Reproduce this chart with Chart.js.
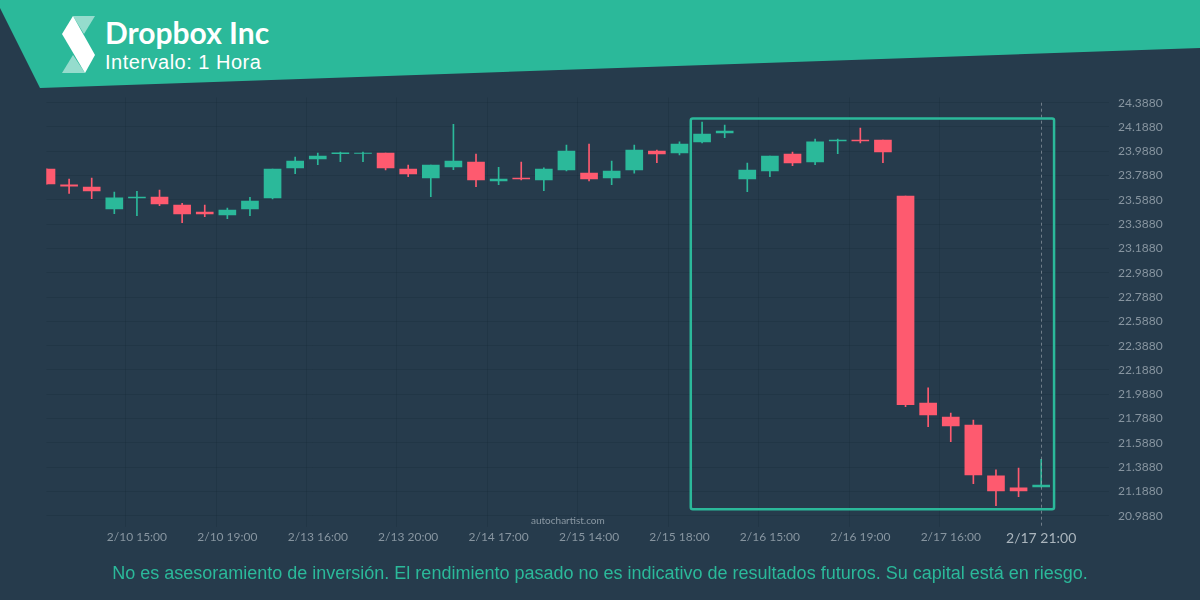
<!DOCTYPE html>
<html>
<head>
<meta charset="utf-8">
<script src="https://cdn.jsdelivr.net/npm/chart.js@4.4.1/dist/chart.umd.min.js"></script>
<style>
	html, body { margin: 0; padding: 0; background: #263b4c; width: 1200px; height: 600px; overflow: hidden; }
	#chart { position: absolute; left: 0; top: 0; }
	.banner {
		position: absolute; left: 0; top: 0; width: 1200px; height: 90px;
		background: #2bb99a;
		clip-path: polygon(0 0, 1200px 0, 1200px 48px, 40px 88px, 0 8px);
	}
	.logo { position: absolute; left: 0; top: 0; }
	.title { position: absolute; left: 105px; top: 14px; font: bold 30px Lato, sans-serif; color: #fff; }
	.subtitle { position: absolute; left: 105px; top: 51px; font: 20px "Liberation Sans", Arial, sans-serif; letter-spacing: 0.5px; color: #fff; }
	.brand { position: absolute; left: 531px; top: 514px; font: 10px Lato, sans-serif; color: #8a98a3; }
	.disclaimer {
		position: absolute; left: 0; width: 1200px; top: 563px; text-align: center;
		font: 18px "Liberation Sans", Arial, sans-serif; color: #2bb99a;
	}
</style>
</head>
<body>
<canvas id="chart" width="1200" height="600"></canvas>
<div class="banner">
	<svg class="logo" width="120" height="90">
		<polygon points="73,16 95,16 84,34" fill="rgba(255,255,255,0.5)"/>
		<polygon points="73,16 62,34 85,73 95,55" fill="#fff"/>
		<polygon points="62,73 85,73 73,55" fill="rgba(255,255,255,0.5)"/>
	</svg>
	<div class="title">Dropbox Inc</div>
	<div class="subtitle">Intervalo: 1 Hora</div>
</div>
<div class="brand">autochartist.com</div>
<div class="disclaimer">No es asesoramiento de inversión. El rendimiento pasado no es indicativo de resultados futuros. Su capital está en riesgo.</div>

<script>
// velas de 1 hora (hora del gráfico)
const times = [
	'2/9 18:00', '2/9 19:00', '2/9 20:00', '2/10 14:00', '2/10 15:00', '2/10 16:00', '2/10 17:00', '2/10 18:00',
	'2/10 19:00', '2/10 20:00', '2/13 14:00', '2/13 15:00', '2/13 16:00', '2/13 17:00', '2/13 18:00', '2/13 19:00',
	'2/13 20:00', '2/14 14:00', '2/14 15:00', '2/14 16:00', '2/14 17:00', '2/14 18:00', '2/14 19:00', '2/14 20:00',
	'2/15 14:00', '2/15 15:00', '2/15 16:00', '2/15 17:00', '2/15 18:00', '2/15 19:00', '2/15 20:00', '2/16 14:00',
	'2/16 15:00', '2/16 16:00', '2/16 17:00', '2/16 18:00', '2/16 19:00', '2/16 20:00', '2/17 14:00', '2/17 15:00',
	'2/17 16:00', '2/17 17:00', '2/17 18:00', '2/17 19:00', '2/17 21:00',
	'', '', ''
];

const opens = [
	23.842, 23.711, 23.694, 23.513, 23.605, 23.612, 23.546, 23.488, 23.464, 23.513,
	23.604, 23.851, 23.925, 23.968, 23.970, 23.974, 23.842, 23.768, 23.859, 23.900,
	23.744, 23.768, 23.752, 23.834, 23.809, 23.768, 23.834, 23.990, 23.974, 24.065,
	24.139, 23.760, 23.826, 23.966, 23.900, 24.073, 24.081, 24.081, 23.620, 21.916,
	21.801, 21.735, 21.316, 21.217, 21.225
];
const highs = [
	23.845, 23.760, 23.768, 23.653, 23.659, 23.669, 23.560, 23.546, 23.521, 23.609,
	23.842, 23.941, 23.974, 23.982, 23.982, 23.974, 23.875, 23.875, 24.210, 23.966,
	23.856, 23.900, 23.851, 24.040, 24.048, 23.908, 24.040, 23.999, 24.065, 24.229,
	24.204, 23.892, 23.949, 23.982, 24.089, 24.089, 24.180, 24.081, 23.620, 22.040,
	21.834, 21.776, 21.365, 21.381, 21.453
];
const lows = [
	23.715, 23.642, 23.598, 23.474, 23.458, 23.540, 23.400, 23.450, 23.433, 23.458,
	23.595, 23.804, 23.878, 23.902, 23.902, 23.834, 23.779, 23.614, 23.837, 23.697,
	23.713, 23.752, 23.664, 23.826, 23.744, 23.713, 23.807, 23.894, 23.958, 24.056,
	24.100, 23.656, 23.779, 23.869, 23.878, 23.968, 24.056, 23.894, 21.886, 21.721,
	21.598, 21.252, 21.071, 21.145, 21.225
];
const closes = [
	23.719, 23.700, 23.661, 23.604, 23.612, 23.554, 23.472, 23.472, 23.505, 23.579,
	23.842, 23.908, 23.949, 23.975, 23.974, 23.851, 23.801, 23.875, 23.908, 23.752,
	23.760, 23.760, 23.842, 23.990, 23.760, 23.826, 23.999, 23.966, 24.048, 24.130,
	24.155, 23.834, 23.949, 23.892, 24.065, 24.081, 24.073, 23.982, 21.902, 21.818,
	21.727, 21.324, 21.192, 21.192, 21.241
];

const yTicks = [20.988, 21.188, 21.388, 21.588, 21.788, 21.988, 22.188, 22.388, 22.588,
	22.788, 22.988, 23.188, 23.388, 23.588, 23.788, 23.988, 24.188, 24.388];

// zona del patrón detectado
const zoneFrom = 28.5, zoneTo = 44.57, zoneHigh = 24.258, zoneLow = 21.041;
const lastIndex = 44;

const GREEN = '#2bb99a';
const RED   = '#fe5a6f';
const GRID  = 'rgba(20,35,48,0.22)';
const TICK  = '#8795a0';

const candleColors = opens.map((o, i) => closes[i] >= o ? GREEN : RED);

const zonePlugin = {
	id: 'zone',
	afterDatasetsDraw(chart) {
		const { ctx, scales: { x, y }, chartArea } = chart;
		// línea punteada en la última vela
		const lx = Math.round(x.getPixelForValue(lastIndex)) + 0.5;
		ctx.save();
		ctx.strokeStyle = 'rgba(160,170,178,0.6)';
		ctx.lineWidth = 1;
		ctx.setLineDash([3, 3]);
		ctx.beginPath();
		ctx.moveTo(lx, y.getPixelForValue(yTicks[yTicks.length - 1]));
		ctx.lineTo(lx, chartArea.bottom + 5);
		ctx.stroke();
		ctx.setLineDash([]);

		// rectángulo del patrón
		const l = x.getPixelForValue(zoneFrom), r = x.getPixelForValue(zoneTo);
		const t = y.getPixelForValue(zoneHigh), b = y.getPixelForValue(zoneLow);
		ctx.strokeStyle = GREEN;
		ctx.lineWidth = 2.5;
		ctx.beginPath();
		ctx.roundRect(l, t, r - l, b - t, 2);
		ctx.stroke();
		ctx.restore();
	}
};

new Chart(document.getElementById('chart'), {
	type: 'bar',
	data: {
		labels: times,
		datasets: [
			{
				label: 'wick',
				data: lows.map((l, i) => [l, highs[i]]),
				backgroundColor: candleColors,
				barThickness: 1,
				grouped: false,
				order: 2,
			},
			{
				label: 'body',
				data: opens.map((o, i) => [o, closes[i]]),
				backgroundColor: candleColors,
				barThickness: 17,
				grouped: false,
				order: 1,
			}
		]
	},
	options: {
		responsive: false,
		animation: false,
		layout: { padding: { left: 46.5, top: 97.6, right: 0, bottom: 0 } },
		plugins: { legend: { display: false }, tooltip: { enabled: false } },
		scales: {
			x: {
				offset: false,
				border: { display: false },
				afterFit(scale) { scale.height = 77.2; },
				grid: {
					color: c => (c.index % 4 === 0 && c.index >= 4 && c.index < lastIndex) ? GRID : 'transparent',
					tickLength: 4,
					lineWidth: 1,
				},
				ticks: {
					autoSkip: false,
					maxRotation: 0,
					padding: 3,
					callback: (v, i) => (i % 4 === 0 && i >= 4 && i <= lastIndex) ? times[i] : '',
					color: c => c.index === lastIndex ? '#aab5bd' : TICK,
					font: c => c.index === lastIndex
						? { family: 'Lato', size: 14 }
						: { family: 'Lato', size: 12 },
				}
			},
			y: {
				position: 'right',
				min: 20.93,
				max: 24.43,
				border: { display: false },
				afterFit(scale) { scale.width = 91; },
				afterBuildTicks(scale) { scale.ticks = yTicks.map(v => ({ value: v })); },
				grid: { color: GRID, drawTicks: false },
				ticks: {
					padding: 9,
					color: TICK,
					font: { family: 'Lato', size: 12 },
					callback: v => v.toFixed(4),
				}
			}
		}
	},
	plugins: [zonePlugin]
});
</script>
</body>
</html>
